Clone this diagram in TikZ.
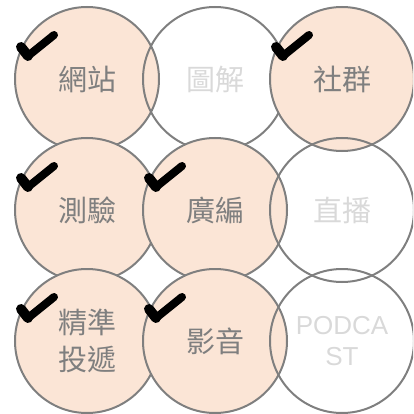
\documentclass[tikz,border=0pt]{standalone}
\usepackage{fontspec}
\setmainfont{Liberation Sans}
\newfontfamily\cjk{Noto Sans CJK TC}
\definecolor{fillc}{HTML}{FBE5D6}
\definecolor{linec}{HTML}{7F7F7F}
\definecolor{txton}{HTML}{7F7F7F}
\definecolor{txtoff}{HTML}{D9D9D9}
\tikzset{
  disc/.style={circle, minimum size=144pt, inner sep=0pt, draw=linec, line width=2pt, align=center, font=\cjk\fontsize{29}{37}\selectfont},
  on/.style={disc, fill=fillc, text=txton},
  off/.style={disc, text=txtoff},
  tick/.style={line width=8pt, line cap=round, line join=round, black}
}
\newcommand{\tickat}[1]{%
  \draw[tick, line width=10pt] ([shift={(-66,-32)}]#1.center) -- ([shift={(-59,-23)}]#1.center);
  \draw[tick] ([shift={(-59,-23)}]#1.center) -- ([shift={(-33,-44)}]#1.center);}
\begin{document}
\begin{tikzpicture}[x=1pt,y=-1pt]
\useasboundingbox (0,0) rectangle (413,414);
\begin{scope}
\clip (0,0) rectangle (413,414);
\node[on] (a1) at (87,79) {網站}; \tickat{a1}
\node[off] (a2) at (215,79) {圖解};
\node[on] (a3) at (342,79) {社群}; \tickat{a3}
\node[on] (b1) at (87,210) {測驗}; \tickat{b1}
\node[on] (b2) at (215,210) {廣編}; \tickat{b2}
\node[off] (b3) at (342,210) {直播};
\node[on] (c1) at (87,341) {精準\\投遞}; \tickat{c1}
\node[on] (c2) at (215,341) {影音}; \tickat{c2}
\node[off, font=\fontsize{26}{31}\selectfont] (c3) at (342,341) {PODCA\\ST};
\end{scope}
\end{tikzpicture}
\end{document}
